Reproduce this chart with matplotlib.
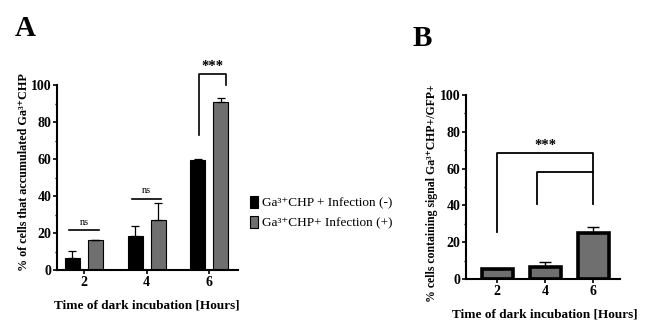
import matplotlib.pyplot as plt
import numpy as np
from matplotlib.ticker import MultipleLocator

plt.rcParams['font.family'] = ['Liberation Serif', 'DejaVu Serif']

# panel A data
hours = ["2", "4", "6"]
neg_mean = [6.6, 18.4, 59.3]
neg_err = [3.5, 5.6, 0.9]
pos_mean = [16.0, 26.9, 90.6]
pos_err = [0.0, 9.1, 2.2]
sig_a = ["ns", "ns", "***"]

# panel B data
gfp_mean = [5.5, 6.5, 25.0]
gfp_err = [0.0, 2.7, 3.3]

grey = "#6f6f6f"

fig = plt.figure(figsize=(6.69, 3.35), dpi=100)

def style_axis(ax):
    ax.spines['top'].set_visible(False)
    ax.spines['right'].set_visible(False)
    ax.spines['left'].set_linewidth(1.5)
    ax.spines['bottom'].set_linewidth(1.5)
    ax.set_ylim(0, 100)
    ax.yaxis.set_major_locator(MultipleLocator(20))
    ax.yaxis.set_minor_locator(MultipleLocator(10))
    ax.tick_params(axis='both', which='major', length=3, width=1.2, labelsize=10, pad=1)
    ax.tick_params(axis='y', which='minor', length=1.5, width=1)
    for lab in ax.get_xticklabels() + ax.get_yticklabels():
        lab.set_fontweight('bold')

# ---- A ----
axA = fig.add_axes([0.0852, 0.194, 0.2706, 0.552])
x = np.arange(len(hours))
w = 0.24
off = 0.184
axA.bar(x - off, neg_mean, w, color="black", edgecolor="black", linewidth=0.8,
        label="Ga³⁺CHP + Infection (-)")
axA.bar(x + off, pos_mean, w, color=grey, edgecolor="black", linewidth=0.8,
        label="Ga³⁺CHP+ Infection (+)")
axA.errorbar(x - off, neg_mean, yerr=[np.zeros(3), neg_err], fmt='none',
             ecolor='black', elinewidth=0.9, capsize=3, capthick=0.9)
axA.errorbar(x + off, pos_mean, yerr=[np.zeros(3), pos_err], fmt='none',
             ecolor='black', elinewidth=0.9, capsize=3, capthick=0.9)
axA.set_xlim(-0.43, 2.46)
axA.set_xticks(x)
axA.set_xticklabels(hours)
style_axis(axA)
axA.set_xlabel("Time of dark incubation [Hours]", fontsize=9.5, fontweight='bold')
axA.xaxis.set_label_coords(0.497, -0.16)
axA.set_ylabel("% of cells that accumulated Ga³⁺CHP", fontsize=8.7, fontweight='bold')
axA.yaxis.set_label_coords(-0.15, 0.53)

# ns lines
for i, (y, txt) in enumerate(zip([21.5, 38.4], sig_a[:2])):
    axA.plot([x[i] - off - 0.05, x[i] + off + 0.05], [y, y], color='black', lw=1.2)
    axA.text(x[i], y + 2, txt, ha='center', va='bottom', fontsize=7.5)
# *** bracket
axA.plot([x[2] - off + 0.02, x[2] - off + 0.02, x[2] + off + 0.08, x[2] + off + 0.08],
         [73, 106, 106, 100], color='black', lw=1.2, clip_on=False)
axA.text(x[2] + 0.05, 106.5, sig_a[2], ha='center', va='bottom', fontsize=10.5,
         fontweight='bold', clip_on=False)

fig.legend(loc='center left', bbox_to_anchor=(250 / 669, 1 - 213 / 335), frameon=False,
           fontsize=9.5, handlelength=0.6, handleheight=1.0, handletextpad=0.3,
           labelspacing=0.5, borderpad=0, borderaxespad=0)

fig.text(15 / 669, 1 - 28 / 335, "A", fontsize=21, fontweight='bold', va='center', ha='left')

# ---- B ----
axB = fig.add_axes([0.6966, 0.1672, 0.2302, 0.549])
axB.bar(x, gfp_mean, 0.65, color=grey, edgecolor="black", linewidth=2.6)
axB.errorbar(x, gfp_mean, yerr=[np.zeros(3), gfp_err], fmt='none',
             ecolor='black', elinewidth=1.0, capsize=4, capthick=1.0)
axB.set_xlim(-0.65, 2.56)
axB.set_xticks(x)
axB.set_xticklabels(hours)
style_axis(axB)
axB.set_xlabel("Time of dark incubation [Hours]", fontsize=9.5, fontweight='bold')
axB.xaxis.set_label_coords(0.513, -0.158)
axB.set_ylabel("% cells containing signal Ga³⁺CHP+/GFP+", fontsize=8.5, fontweight='bold')
axB.yaxis.set_label_coords(-0.182, 0.465)
axB.plot([0, 0, 2, 2], [25.7, 68.6, 68.6, 41], color='black', lw=1.3)
axB.plot([0.83, 0.83, 2], [41, 58.3, 58.3], color='black', lw=1.3)
axB.text(1.0, 69.2, "***", ha='center', va='bottom', fontsize=10.5, fontweight='bold')

fig.text(413 / 669, 1 - 38 / 335, "B", fontsize=21, fontweight='bold', va='center', ha='left')

fig.savefig("out.png", dpi=100)
